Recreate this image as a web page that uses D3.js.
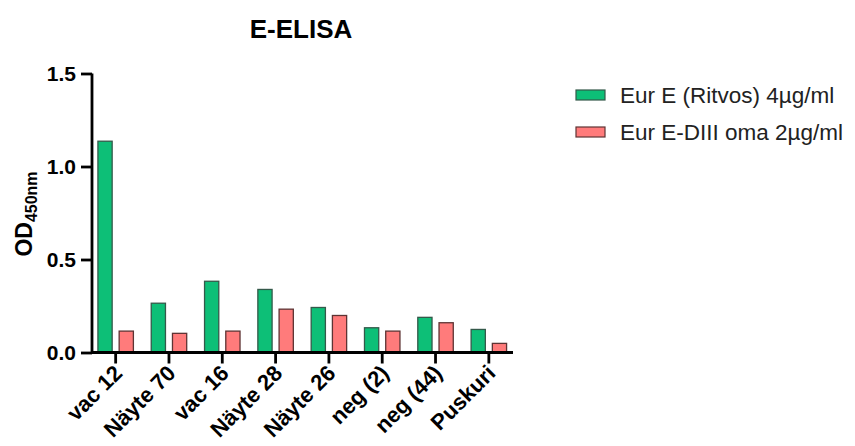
<!DOCTYPE html>
<html>
<head>
<meta charset="utf-8">
<script src="https://cdn.jsdelivr.net/npm/d3@7"></script>
<style>
  html, body { margin: 0; padding: 0; background: #fff; }
  svg { display: block; font-family: "Liberation Sans", Arial, sans-serif; }
</style>
</head>
<body>
<svg id="chart" width="855" height="446"></svg>
<script>
// Samples on the x axis
const categories = ["vac 12", "Näyte 70", "vac 16", "Näyte 28", "Näyte 26", "neg (2)", "neg (44)", "Puskuri"];
// Series names
const seriesNames = ["Eur E (Ritvos) 4µg/ml", "Eur E-DIII oma 2µg/ml"];
// OD450 readings per sample
const ritvosValues = [1.136, 0.265, 0.383, 0.339, 0.242, 0.133, 0.189, 0.124];
const omaValues    = [0.115, 0.103, 0.115, 0.233, 0.199, 0.115, 0.160, 0.049];
// Y axis ticks
const yTicks = [0.0, 0.5, 1.0, 1.5];

const fills = ["#0dbf77", "#ff7b7b"];
const strokes = ["#34594a", "#5e3434"];

const svg = d3.select("#chart");

const y = d3.scaleLinear().domain([0, 1.5]).range([352.5, 73.5]);
const x = d3.scaleBand().domain(categories).range([89, 515.5]).padding(0);
const xInner = d3.scaleBand().domain(seriesNames).range([0, x.bandwidth()]).paddingInner(0.33).paddingOuter(0.42);

const rows = categories.map((c, i) => ({ cat: c, vals: [ritvosValues[i], omaValues[i]] }));

// Bars
const groups = svg.append("g").selectAll("g")
  .data(rows).join("g")
  .attr("transform", d => `translate(${x(d.cat)},0)`);

groups.selectAll("rect")
  .data(d => d.vals.map((v, k) => ({ v, k })))
  .join("rect")
  .attr("x", d => xInner(seriesNames[d.k]))
  .attr("width", xInner.bandwidth())
  .attr("y", d => y(d.v))
  .attr("height", d => y(0) - y(d.v))
  .attr("fill", d => fills[d.k])
  .attr("stroke", d => strokes[d.k])
  .attr("stroke-width", 1.3);

// Y axis
const yAxis = svg.append("g")
  .attr("transform", "translate(92,0)")
  .call(d3.axisLeft(y).tickValues(yTicks).tickFormat(d3.format(".1f")).tickSize(11).tickPadding(5));
yAxis.select(".domain").attr("stroke", "#000").attr("stroke-width", 2.8)
  .attr("d", `M0,${y(1.5)}V${y(0)}`);
yAxis.selectAll(".tick line").attr("stroke", "#000").attr("stroke-width", 2.8);
yAxis.selectAll(".tick text")
  .attr("fill", "#000").attr("font-size", 21).attr("font-weight", "bold")
  .attr("font-family", "Liberation Sans, Arial, sans-serif");

// X axis
const xAxis = svg.append("g")
  .attr("transform", `translate(0,${y(0)})`)
  .call(d3.axisBottom(x).tickSize(11).tickFormat(""));
xAxis.select(".domain").attr("stroke", "#000").attr("stroke-width", 2.8)
  .attr("d", "M92,0H513");
xAxis.selectAll(".tick line").attr("stroke", "#000").attr("stroke-width", 2.8);

// Rotated category labels
svg.append("g").selectAll("text")
  .data(categories).join("text")
  .attr("transform", d => `translate(${x(d) + x.bandwidth() / 2 + 8},${y(0) + 22}) rotate(-45)`)
  .attr("text-anchor", "end")
  .attr("font-size", 22)
  .attr("font-weight", "bold")
  .attr("fill", "#000")
  .text(d => d);

// Y axis title with subscript
const yTitle = svg.append("text")
  .attr("transform", "translate(32,214) rotate(-90)")
  .attr("text-anchor", "middle")
  .attr("font-weight", "bold")
  .attr("fill", "#000");
yTitle.append("tspan").attr("font-size", 23).text("OD");
yTitle.append("tspan").attr("font-size", 16).attr("dy", 5).text("450nm");

// Title
svg.append("text")
  .attr("x", 301).attr("y", 38)
  .attr("text-anchor", "middle")
  .attr("font-size", 26).attr("font-weight", "bold")
  .attr("fill", "#000")
  .text("E-ELISA");

// Legend
const legend = svg.append("g").selectAll("g")
  .data(seriesNames).join("g")
  .attr("transform", (d, i) => `translate(576,${90 + i * 37})`);
legend.append("rect")
  .attr("width", 29).attr("height", 10)
  .attr("fill", (d, i) => fills[i])
  .attr("stroke", (d, i) => strokes[i])
  .attr("stroke-width", 1.2);
legend.append("text")
  .attr("x", 44).attr("y", 13)
  .attr("font-size", 22.5)
  .attr("fill", "#222")
  .text(d => d);
</script>
</body>
</html>
